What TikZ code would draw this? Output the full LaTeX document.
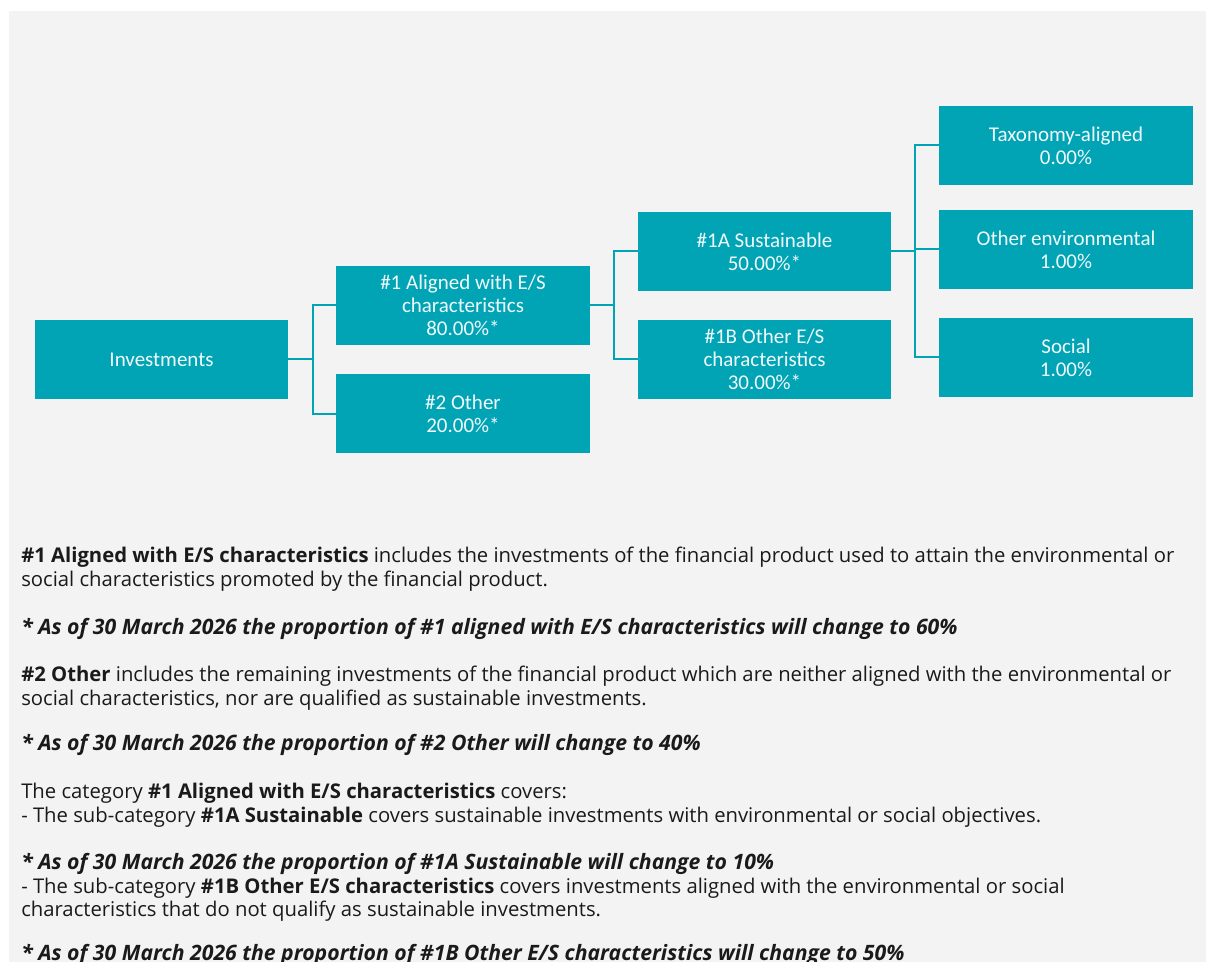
\documentclass[tikz,border=0pt]{standalone}
\usepackage{fontspec}
\setmainfont{Open Sans}
\newfontfamily\boxfont{Carlito}
\definecolor{teal1}{RGB}{0,164,181}
\definecolor{bggrey}{RGB}{243,243,243}
\definecolor{boxtext}{RGB}{240,250,252}
\definecolor{bodytext}{RGB}{26,26,26}
\begin{document}
\begin{tikzpicture}[x=0.75pt,y=-0.75pt,
  box/.style={fill=teal1,draw=none,minimum width=190pt,minimum height=59.25pt,inner sep=0pt,
    align=center,text=boxtext,font=\boxfont\fontsize{15.75}{17.25}\selectfont},
  conn/.style={draw=teal1,line width=1.5pt},
  body/.style={anchor=base west,inner sep=0pt,text=bodytext,font=\fontsize{15.2}{17.6}\selectfont},
  note/.style={body,font=\fontsize{15.9}{17.6}\selectfont\bfseries\itshape}]
\useasboundingbox (0,0) rectangle (1206,962);
\clip (0,0) rectangle (1206,962);
\fill[white] (0,0) rectangle (1206,962);
\fill[bggrey] (9,11) rectangle (1206,962);
% boxes
\node[box] (inv) at (161.5,359.5) {Investments};
\node[box] (al) at (463,305.5) {\#1 Aligned with E/S\\characteristics\\80.00\%*};
\node[box] (oth) at (463,413.5) {\#2 Other\\20.00\%*};
\node[box] (sus) at (764.5,251.5) {\#1A Sustainable\\50.00\%*};
\node[box] (oes) at (764.5,359.5) {\#1B Other E/S\\characteristics\\30.00\%*};
\node[box] (tax) at (1066,145.5) {Taxonomy-aligned\\0.00\%};
\node[box] (env) at (1066,249.5) {Other environmental\\1.00\%};
\node[box] (soc) at (1066,357.5) {Social\\1.00\%};
% junctions
\coordinate (j1) at (313,0);
\coordinate (j2) at (614,0);
\coordinate (j3) at (915,0);
\draw[conn] (inv.east) -- (inv.east -| j1);
\draw[conn] (al.west) -- (al.west -| j1) -- (oth.west -| j1) -- (oth.west);
\draw[conn] (al.east) -- (al.east -| j2);
\draw[conn] (sus.west) -- (sus.west -| j2) -- (oes.west -| j2) -- (oes.west);
\draw[conn] (sus.east) -- (sus.east -| j3);
\draw[conn] (tax.west) -- (tax.west -| j3) -- (soc.west -| j3) -- (soc.west);
\draw[conn] (env.west) -- (env.west -| j3);
% body text
\node[body] (t1) at (21,562.5) {\textbf{\#1 Aligned with E/S characteristics} includes the investments of the financial product used to attain the environmental or};
\node[body] (t2) at (21,586.5) {social characteristics promoted by the financial product.};
\node[note] (t3) at (21,634) {* As of 30 March 2026 the proportion of \#1 aligned with E/S characteristics will change to 60\%};
\node[body] (t4) at (21,681.5) {\textbf{\#2 Other} includes the remaining investments of the financial product which are neither aligned with the environmental or};
\node[body] (t5) at (21,705) {social characteristics, nor are qualified as sustainable investments.};
\node[note] (t6) at (21,750.5) {* As of 30 March 2026 the proportion of \#2 Other will change to 40\%};
\node[body] (t7) at (21,798.5) {The category \textbf{\#1 Aligned with E/S characteristics} covers:};
\node[body] (t8) at (21,822) {- The sub-category \textbf{\#1A Sustainable} covers sustainable investments with environmental or social objectives.};
\node[note] (t9) at (21,869.5) {* As of 30 March 2026 the proportion of \#1A Sustainable will change to 10\%};
\node[body] (t10) at (21,893) {- The sub-category \textbf{\#1B Other E/S characteristics} covers investments aligned with the environmental or social};
\node[body] (t11) at (21,916.5) {characteristics that do not qualify as sustainable investments.};
\node[note] (t12) at (21,960) {* As of 30 March 2026 the proportion of \#1B Other E/S characteristics will change to 50\%};
\end{tikzpicture}
\end{document}
